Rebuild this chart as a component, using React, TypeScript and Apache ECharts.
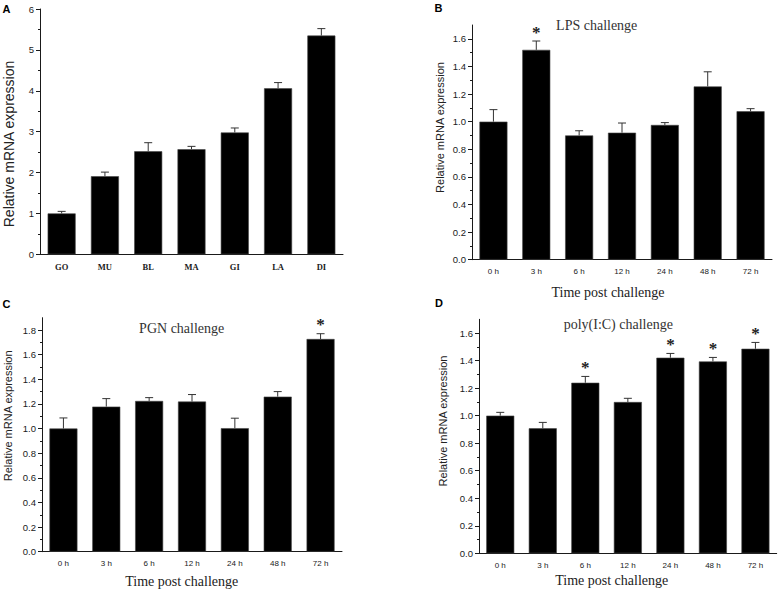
import React, { useEffect, useRef } from "react";
import * as echarts from "echarts";

const catsA = ["GO", "MU", "BL", "MA", "GI", "LA", "DI"];
const meanA = [1.0, 1.91, 2.52, 2.57, 2.98, 4.06, 5.35];
const sdA = [0.05, 0.1, 0.21, 0.07, 0.11, 0.14, 0.17];
const sigA = [0, 0, 0, 0, 0, 0, 0];

const catsT = ["0 h", "3 h", "6 h", "12 h", "24 h", "48 h", "72 h"];
const meanB = [1.0, 1.52, 0.9, 0.92, 0.976, 1.255, 1.075];
const sdB = [0.087, 0.064, 0.034, 0.07, 0.017, 0.106, 0.019];
const sigB = [0, 1, 0, 0, 0, 0, 0];

const meanC = [1.0, 1.178, 1.224, 1.219, 1.003, 1.259, 1.727];
const sdC = [0.086, 0.065, 0.027, 0.057, 0.081, 0.041, 0.043];
const sigC = [0, 0, 0, 0, 0, 0, 1];

const meanD = [1.0, 0.908, 1.239, 1.099, 1.421, 1.394, 1.486];
const sdD = [0.024, 0.043, 0.046, 0.027, 0.031, 0.029, 0.046];
const sigD = [0, 0, 1, 0, 1, 1, 1];

const ticksA = [0, 1, 2, 3, 4, 5, 6];
const minorA = [0.5, 1.5, 2.5, 3.5, 4.5, 5.5];
const ticks16 = [0, 0.2, 0.4, 0.6, 0.8, 1.0, 1.2, 1.4, 1.6];
const minor16 = [0.1, 0.3, 0.5, 0.7, 0.9, 1.1, 1.3, 1.5];
const ticks18 = [0, 0.2, 0.4, 0.6, 0.8, 1.0, 1.2, 1.4, 1.6, 1.8];
const minor18 = [0.1, 0.3, 0.5, 0.7, 0.9, 1.1, 1.3, 1.5, 1.7];

const INK = "#1a1a1a";

export default function App() {
  const ref = useRef<HTMLDivElement>(null);

  useEffect(() => {
    if (!ref.current) return;
    const chart = echarts.init(ref.current, null, { renderer: "svg" });

    const panels = [
      { cats: catsA, mean: meanA, sd: sdA, sig: sigA, max: 6, ticks: ticksA, minor: minorA, fmt: (v: number) => String(v), grid: { left: 40, top: 9, width: 303, height: 245.3 }, serifX: true },
      { cats: catsT, mean: meanB, sd: sdB, sig: sigB, max: 1.7, ticks: ticks16, minor: minor16, fmt: (v: number) => v.toFixed(1), grid: { left: 472, top: 25, width: 300, height: 234.7 }, serifX: false },
      { cats: catsT, mean: meanC, sd: sdC, sig: sigC, max: 1.9, ticks: ticks18, minor: minor18, fmt: (v: number) => v.toFixed(1), grid: { left: 42, top: 317.7, width: 300, height: 234 }, serifX: false },
      { cats: catsT, mean: meanD, sd: sdD, sig: sigD, max: 1.7, ticks: ticks16, minor: minor16, fmt: (v: number) => v.toFixed(1), grid: { left: 479, top: 319.3, width: 297.7, height: 234 }, serifX: false },
    ];

    const grids: any[] = [];
    const xAxes: any[] = [];
    const yAxes: any[] = [];
    const series: any[] = [];

    panels.forEach((p, g) => {
      grids.push({ ...p.grid, containLabel: false });
      xAxes.push({
        type: "category",
        gridIndex: g,
        position: "bottom",
        data: p.cats,
        axisLine: { lineStyle: { color: INK, width: 1 } },
        axisTick: { alignWithLabel: true, length: 4, lineStyle: { color: INK } },
        axisLabel: p.serifX
          ? { color: INK, fontFamily: "Liberation Serif", fontWeight: "bold", fontSize: 8.5, margin: 8, interval: 0 }
          : { color: INK, fontFamily: "Liberation Sans", fontSize: 8, margin: 8, interval: 0 },
        splitLine: { show: false },
      });
      xAxes.push({
        type: "category",
        gridIndex: g,
        position: "bottom",
        offset: 0,
        data: p.cats,
        axisLine: { show: false },
        axisTick: { alignWithLabel: false, length: 2, lineStyle: { color: INK } },
        axisLabel: { show: false },
        splitLine: { show: false },
      });
      yAxes.push({
        type: "value",
        gridIndex: g,
        position: "left",
        min: 0,
        max: p.max,
        axisLine: { show: true, lineStyle: { color: INK, width: 1 } },
        axisTick: { show: true, length: 4, customValues: p.ticks, lineStyle: { color: INK } },
        axisLabel: { color: INK, fontFamily: "Liberation Sans", fontSize: 9.5, margin: 6, customValues: p.ticks, formatter: p.fmt },
        splitLine: { show: false },
      });
      yAxes.push({
        type: "value",
        gridIndex: g,
        position: "left",
        offset: 0,
        min: 0,
        max: p.max,
        axisLine: { show: false },
        axisTick: { show: true, length: 2, customValues: p.minor, lineStyle: { color: INK } },
        axisLabel: { show: false },
        splitLine: { show: false },
      });

      series.push({
        type: "bar",
        xAxisIndex: 2 * g,
        yAxisIndex: 2 * g,
        data: p.mean,
        barWidth: 28,
        itemStyle: { color: "#000", borderColor: "#444", borderWidth: 0.6 },
        z: 2,
      });
      series.push({
        type: "custom",
        xAxisIndex: 2 * g,
        yAxisIndex: 2 * g,
        z: 3,
        data: p.mean.map((m, i) => [i, m, m + p.sd[i], p.sig[i]]),
        encode: { x: 0, y: 1 },
        renderItem: (params: any, api: any) => {
          const i = api.value(0);
          const m = api.value(1);
          const e = api.value(2);
          const s = api.value(3);
          const p0 = api.coord([i, m]);
          const p1 = api.coord([i, e]);
          const children: any[] = [
            { type: "line", shape: { x1: p0[0], y1: p0[1], x2: p1[0], y2: p1[1] }, style: { stroke: "#333", lineWidth: 1 } },
            { type: "line", shape: { x1: p1[0] - 4, y1: p1[1], x2: p1[0] + 4, y2: p1[1] }, style: { stroke: "#333", lineWidth: 1 } },
          ];
          if (s) {
            children.push({
              type: "text",
              style: { text: "*", x: p1[0], y: p1[1] - 9, align: "center", verticalAlign: "middle", fill: "#222", font: "bold 17px 'Liberation Serif'" },
            });
          }
          return { type: "group", children };
        },
      });
    });

    const t = (text: string, x: number, y: number, font: string, fill = INK, rot = 0) => ({
      type: "text",
      x,
      y,
      rotation: rot,
      style: { text, x: 0, y: 0, align: "center", verticalAlign: "middle", font, fill },
    });

    const graphic = [
      t("A", 6.5, 8.5, "bold 11px 'Liberation Sans'", "#000"),
      t("B", 438.5, 8, "bold 11px 'Liberation Sans'", "#000"),
      t("C", 6.5, 303.5, "bold 11px 'Liberation Sans'", "#000"),
      t("D", 439, 302.5, "bold 11px 'Liberation Sans'", "#000"),
      t("Relative mRNA expression", 8.5, 144, "14px 'Liberation Sans'", "#222", Math.PI / 2),
      t("Relative mRNA expression", 440, 127.5, "11px 'Liberation Sans'", "#222", Math.PI / 2),
      t("Relative mRNA expression", 8.3, 415.8, "11px 'Liberation Sans'", "#222", Math.PI / 2),
      t("Relative mRNA expression", 443.3, 421, "11px 'Liberation Sans'", "#222", Math.PI / 2),
      t("LPS challenge", 596.7, 25.7, "14px 'Liberation Serif'", "#333"),
      t("PGN challenge", 181.7, 328.3, "14px 'Liberation Serif'", "#333"),
      t("poly(I:C) challenge", 618.3, 324.3, "14px 'Liberation Serif'", "#333"),
      t("Time post challenge", 608, 292.7, "14px 'Liberation Serif'", "#222"),
      t("Time post challenge", 181.7, 581.7, "14px 'Liberation Serif'", "#222"),
      t("Time post challenge", 611.7, 580, "14px 'Liberation Serif'", "#222"),
    ];

    chart.setOption({
      animation: false,
      backgroundColor: "#fff",
      grid: grids,
      xAxis: xAxes,
      yAxis: yAxes,
      series,
      graphic,
    });

    return () => chart.dispose();
  }, []);

  return (
    <div
      ref={ref}
      style={{ position: "absolute", left: 0, top: 0, width: 779, height: 598, background: "#fff" }}
    />
  );
}
